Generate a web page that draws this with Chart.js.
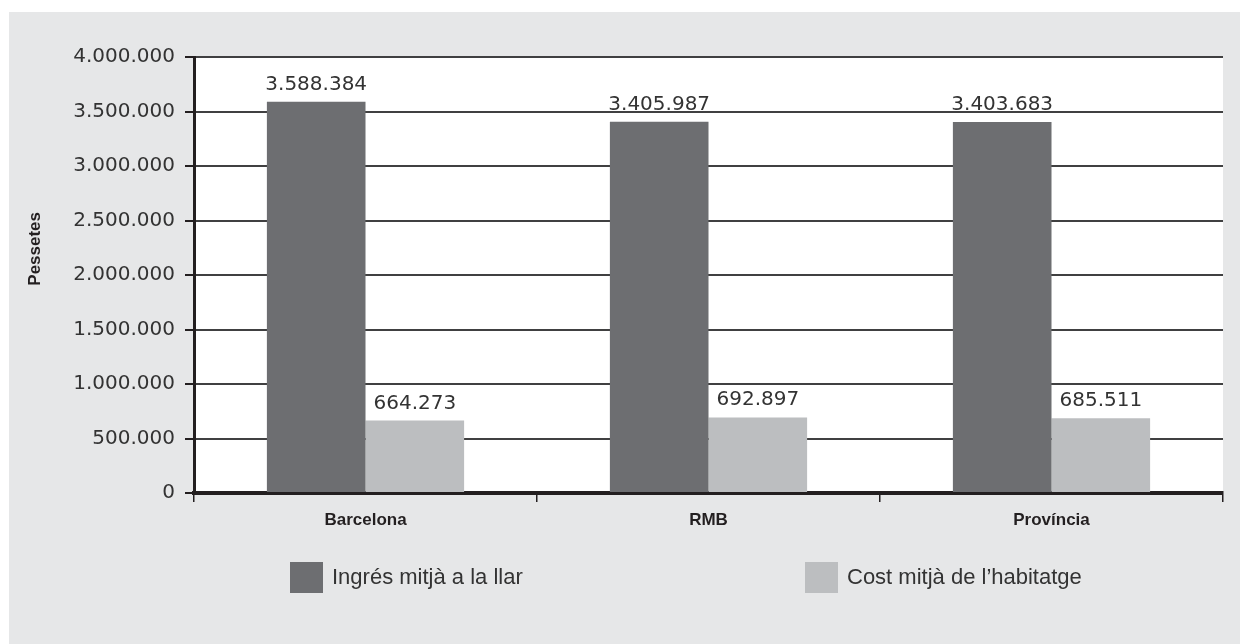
<!DOCTYPE html>
<html lang="ca">
<head>
<meta charset="utf-8">
<title>Ingrés mitjà a la llar i cost mitjà de l'habitatge</title>
<script src="https://cdn.jsdelivr.net/npm/chart.js"></script>
<style>
  html, body { margin: 0; padding: 0; background: #ffffff; }
  .chart-box { position: relative; width: 1240px; height: 644px; }
</style>
</head>
<body>
<div class="chart-box"><canvas id="chart"></canvas></div>
<script>
  // Data
  const categories = ['Barcelona', 'RMB', 'Província'];
  const seriesNames = ['Ingrés mitjà a la llar', "Cost mitjà de l\u2019habitatge"];
  const ingresValues = [3588384, 3405987, 3403683];
  const costValues = [664273, 692897, 685511];
  const yTicks = [0, 500000, 1000000, 1500000, 2000000, 2500000, 3000000, 3500000, 4000000];
  const yTitle = 'Pessetes';

  const DARK = '#6d6e71';
  const LIGHT = '#bcbec0';
  const PANEL = '#e6e7e8';
  const INK = '#231f20';

  /**
   * Format a number with dots as thousands separator (4.000.000).
   */
  function formatThousands(value) {
    return String(Math.round(value)).replace(/\B(?=(\d{3})+(?!\d))/g, '.');
  }

  // Grey panel behind the whole chart, white plot area on top of it
  const panelPlugin = {
    id: 'panel',
    beforeDraw(chart) {
      const { ctx, chartArea } = chart;
      ctx.save();
      ctx.fillStyle = PANEL;
      ctx.fillRect(9, 12, chart.width - 9, chart.height - 12);
      ctx.fillStyle = '#ffffff';
      ctx.fillRect(chartArea.left, chartArea.top, chartArea.right - chartArea.left, chartArea.bottom - chartArea.top);
      ctx.restore();
    },
  };

  // Value labels above every bar
  const valueLabelPlugin = {
    id: 'valueLabels',
    afterDatasetsDraw(chart) {
      const { ctx } = chart;
      ctx.save();
      ctx.font = '20px "DejaVu Sans", sans-serif';
      ctx.fillStyle = '#333333';
      ctx.textAlign = 'center';
      ctx.textBaseline = 'alphabetic';
      chart.data.datasets.forEach((dataset, index) => {
        chart.getDatasetMeta(index).data.forEach((bar, i) => {
          ctx.fillText(formatThousands(dataset.data[i]), bar.x, bar.y - 12);
        });
      });
      ctx.restore();
    },
  };

  // Rotated axis title sitting a little above the middle, plus the two-item legend
  const decorPlugin = {
    id: 'decor',
    afterDraw(chart) {
      const { ctx, chartArea } = chart;
      const height = chartArea.bottom - chartArea.top;
      ctx.save();
      ctx.fillStyle = INK;
      ctx.font = 'bold 17px "Liberation Sans", Arial, sans-serif';
      ctx.translate(35, chartArea.top + height * 0.44);
      ctx.rotate(-Math.PI / 2);
      ctx.textAlign = 'center';
      ctx.textBaseline = 'middle';
      ctx.fillText(yTitle, 0, 0);
      ctx.restore();

      const legendItems = [
        { x: 290, color: DARK },
        { x: 805, color: LIGHT },
      ];
      ctx.save();
      ctx.font = '22px "Liberation Sans", Arial, sans-serif';
      ctx.textBaseline = 'middle';
      ctx.textAlign = 'left';
      legendItems.forEach((item, index) => {
        ctx.fillStyle = item.color;
        ctx.fillRect(item.x, 562, 33, 31);
        ctx.fillStyle = '#333333';
        ctx.fillText(chart.data.datasets[index].label, item.x + 42, 578);
      });
      ctx.restore();
    },
  };

  new Chart(document.getElementById('chart').getContext('2d'), {
    type: 'bar',
    data: {
      labels: categories,
      datasets: [
        {
          label: seriesNames[0],
          data: ingresValues,
          backgroundColor: DARK,
          borderWidth: 0,
          barPercentage: 1,
          categoryPercentage: 0.575,
        },
        {
          label: seriesNames[1],
          data: costValues,
          backgroundColor: LIGHT,
          borderWidth: 0,
          barPercentage: 1,
          categoryPercentage: 0.575,
        },
      ],
    },
    options: {
      responsive: true,
      maintainAspectRatio: false,
      animation: false,
      layout: {
        padding: { left: 9, top: 57, right: 17, bottom: 0 },
      },
      plugins: {
        legend: { display: false },
        title: { display: false },
        tooltip: { enabled: false },
      },
      scales: {
        x: {
          afterFit(scale) {
            scale.height = 151;
          },
          grid: {
            offset: true,
            drawOnChartArea: false,
            drawTicks: true,
            tickLength: 9,
            color: INK,
            lineWidth: 1.5,
          },
          border: { display: true, color: INK, width: 4 },
          ticks: {
            color: INK,
            padding: 8,
            font: { family: '"Liberation Sans", Arial, sans-serif', size: 17, weight: 'bold' },
          },
        },
        y: {
          min: 0,
          max: 4000000,
          afterFit(scale) {
            scale.width = 185;
          },
          afterBuildTicks(scale) {
            scale.ticks = yTicks.map((value) => ({ value }));
          },
          grid: {
            color: '#404041',
            lineWidth: 2,
            drawTicks: true,
            tickLength: 9,
            tickColor: INK,
          },
          border: { display: true, color: INK, width: 3 },
          ticks: {
            color: '#333333',
            padding: 10,
            font: { family: '"DejaVu Sans", sans-serif', size: 20 },
            callback: (value) => formatThousands(value),
          },
        },
      },
    },
    plugins: [panelPlugin, valueLabelPlugin, decorPlugin],
  });
</script>
</body>
</html>
